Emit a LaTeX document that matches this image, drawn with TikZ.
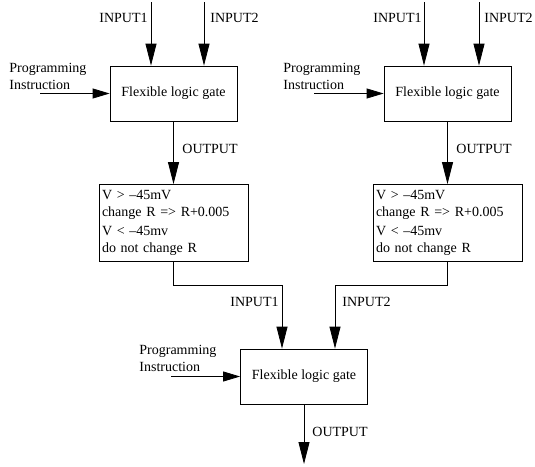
\documentclass[tikz,border=0pt]{standalone}
\usepackage{fontspec}
\setmainfont{Liberation Serif}
\usetikzlibrary{arrows.meta}

\begin{document}
\begin{tikzpicture}[x=1pt, y=-1pt, line width=0.8pt,
                    every node/.style={font=\fontsize{14}{17}\selectfont},
                    gate node/.style={draw, minimum width=127pt, minimum height=55pt, inner sep=0pt},
                    rule node/.style={draw, align=left, text width=143pt, minimum height=77pt,
                                      inner xsep=3pt, inner ysep=0pt},
                    text node/.style={inner sep=0pt},
                    feed/.style={-{Triangle[length=22pt,width=11pt]}},
                    prog/.style={-{Triangle[length=17pt,width=10pt]}}]

  \useasboundingbox (0,0) rectangle (535,466);

  % gates
  \node[gate node] (g1) at (173.5,93.5) {Flexible logic gate};
  \node[gate node] (g2) at (447.5,93.5) {Flexible logic gate};
  \node[gate node] (g3) at (304,376.5) {Flexible logic gate};

  % threshold rules
  \node[rule node] (r1) at (173.5,223) {V > –45mV\\ change R => R+0.005\\[2pt] V < –45mv\\ do not change R};
  \node[rule node] (r2) at (447.5,223) {V > –45mV\\ change R => R+0.005\\[2pt] V < –45mv\\ do not change R};

  % labels
  \node[text node, anchor=east] (in11) at (148,18) {INPUT1};
  \node[text node, anchor=west] (in12) at (210,18) {INPUT2};
  \node[text node, anchor=east] (in21) at (422,18) {INPUT1};
  \node[text node, anchor=west] (in22) at (484,18) {INPUT2};
  \node[text node, anchor=east] (in31) at (279,302) {INPUT1};
  \node[text node, anchor=west] (in32) at (342,302) {INPUT2};
  \node[text node, anchor=west, align=left] (pi1) at (9,76) {Programming\\ Instruction};
  \node[text node, anchor=west, align=left] (pi2) at (283,76) {Programming\\ Instruction};
  \node[text node, anchor=west, align=left] (pi3) at (139,358) {Programming\\ Instruction};
  \node[text node, anchor=west] (out1) at (182,149) {OUTPUT};
  \node[text node, anchor=west] (out2) at (456,149) {OUTPUT};
  \node[text node, anchor=west] (out3) at (312,432) {OUTPUT};

  % free ends
  \coordinate (a11) at (151,2);
  \coordinate (a12) at (204,2);
  \coordinate (a21) at (424,2);
  \coordinate (a22) at (479,2);
  \coordinate (p1) at (40,93.5);
  \coordinate (p2) at (314,93.5);
  \coordinate (p3) at (171,376.5);
  \coordinate (j1) at (282,285);
  \coordinate (j2) at (335,285);
  \coordinate (o3) at (304,464);

  \draw[feed] (a11) -- (a11 |- g1.north);
  \draw[feed] (a12) -- (a12 |- g1.north);
  \draw[feed] (a21) -- (a21 |- g2.north);
  \draw[feed] (a22) -- (a22 |- g2.north);
  \draw[prog] (p1) -- (g1.west);
  \draw[prog] (p2) -- (g2.west);
  \draw[prog] (p3) -- (g3.west);

  \draw[feed] (g1.south) -- (r1.north);
  \draw[feed] (g2.south) -- (r2.north);

  \draw[feed] (r1.south) |- (j1) -- (j1 |- g3.north);
  \draw[feed] (r2.south) |- (j2) -- (j2 |- g3.north);

  \draw[feed] (g3.south) -- (o3);

\end{tikzpicture}
\end{document}
